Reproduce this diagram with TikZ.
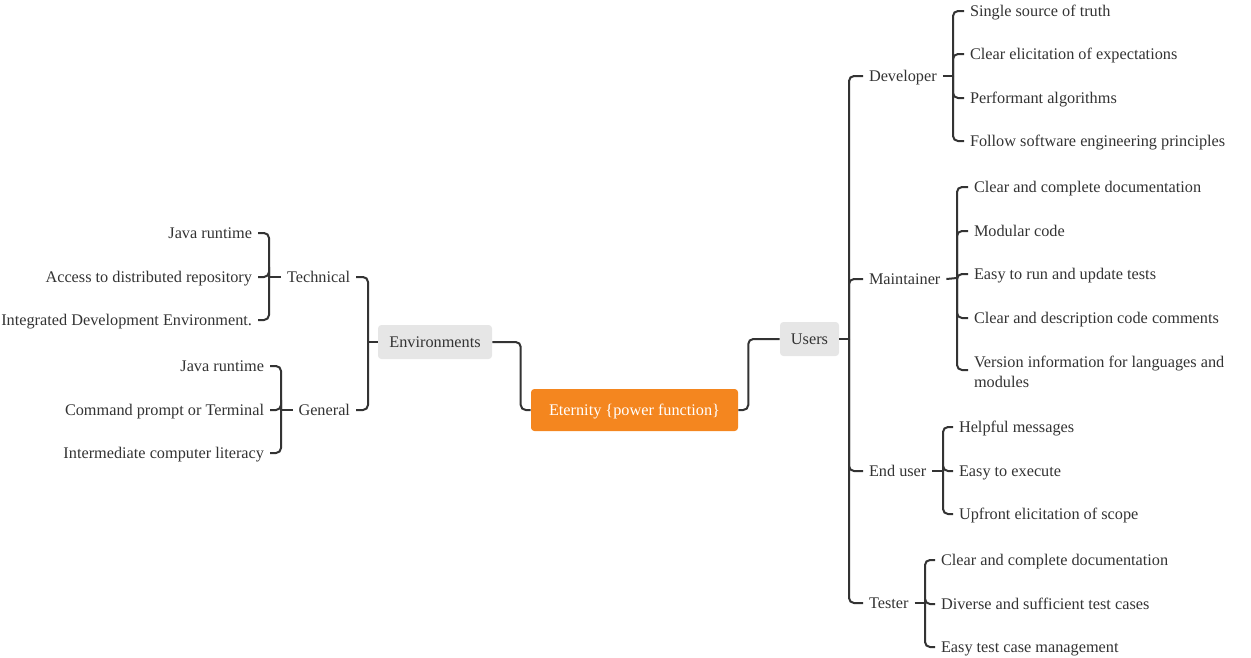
\documentclass[tikz,border=0pt]{standalone}
\usepackage{fontspec}
\setmainfont{Liberation Serif}
\newfontfamily\lserif{Liberation Serif}
\usetikzlibrary{calc}
\definecolor{txt}{HTML}{333333}
\definecolor{ln}{HTML}{333333}
\definecolor{boxgray}{HTML}{E6E6E6}
\definecolor{rootorange}{HTML}{F4861F}
\tikzset{
  lbl/.style={font=\lserif\fontsize{12.2}{15}\selectfont, text=txt, inner sep=0pt, outer xsep=4.5pt, outer ysep=0pt, text height=9.5pt, text depth=1pt},
  rlbl/.style={lbl, anchor=west},
  llbl/.style={lbl, anchor=east},
  multi/.style={font=\lserif\fontsize{12.2}{15}\selectfont, text=txt, inner sep=0pt, outer xsep=4.5pt, anchor=west, align=left},
  graybox/.style={fill=boxgray, rounded corners=2.5pt, font=\lserif\fontsize{12.2}{15}\selectfont, text=txt, inner xsep=2pt, minimum height=25.5pt, text height=9.5pt, text depth=1pt},
  rootbox/.style={fill=rootorange, rounded corners=2.5pt, font=\lserif\fontsize{12.2}{15}\selectfont, text=white, inner xsep=2pt, minimum width=155.25pt, minimum height=31.5pt, text height=9.5pt, text depth=1pt},
  conn/.style={draw=ln, line width=1.5pt, rounded corners=3.75pt},
}
\begin{document}
\begin{tikzpicture}[x=0.75pt, y=-0.75pt]
\useasboundingbox (0,0) rectangle (1251,657);
% central
\node[rootbox] (root) at (634.5,410) {Eternity \{power function\}};
\node[graybox, minimum width=85.5pt] (env) at (435,342) {Environments};
\node[graybox, minimum width=44.25pt] (users) at (809.5,339) {Users};
\draw[conn] (root.west) -- ++(-10,0) |- (env.east);
\draw[conn] (root.east) -- ++(10,0) |- (users.west);

% right trunk
\coordinate (ut) at (849,339);
\node[rlbl] (dev) at (863,76) {Developer};
\node[rlbl] (mai) at (863,279) {Maintainer};
\node[rlbl] (eus) at (863,471) {End user};
\node[rlbl] (tes) at (863,603) {Tester};
\draw[conn] (users.east) -- (ut);
\foreach \n in {dev,mai,eus,tes} \draw[conn] (ut) |- (\n.west);

% Developer
\coordinate (bd) at (953,76);
\node[rlbl] (d1) at (964,11) {Single source of truth};
\node[rlbl] (d2) at (964,54) {Clear elicitation of expectations};
\node[rlbl] (d3) at (964,98) {Performant algorithms};
\node[rlbl] (d4) at (964,141) {Follow software engineering principles};
\draw[conn] (dev.east) -- (bd);
\foreach \n in {d1,d2,d3,d4} \draw[conn] (bd) |- (\n.west);

% Maintainer
\coordinate (bm) at (957,278);
\node[rlbl] (m1) at (968,187) {Clear and complete documentation};
\node[rlbl] (m2) at (968,231) {Modular code};
\node[rlbl] (m3) at (968,274) {Easy to run and update tests};
\node[rlbl] (m4) at (968,318) {Clear and description code comments};
\node[multi] (m5) at (968,371.5) {Version information for languages and\\modules};
\draw[conn] (mai.east) -- (bm);
\foreach \n in {m1,m2,m4} \draw[conn] (bm) |- (\n.west);
\draw[conn] (bm) |- ($(m5.west)+(0,-1.5)$);
\draw[conn] (bm) -- ++(0,-4) -- (m3.west);

% End user
\coordinate (be) at (943,471);
\node[rlbl] (e1) at (953,427) {Helpful messages};
\node[rlbl] (e2) at (953,471) {Easy to execute};
\node[rlbl] (e3) at (953,514) {Upfront elicitation of scope};
\draw[conn] (eus.east) -- (be);
\foreach \n in {e1,e2,e3} \draw[conn] (be) |- (\n.west);

% Tester
\coordinate (bt) at (925,603);
\node[rlbl] (t1) at (935,560) {Clear and complete documentation};
\node[rlbl] (t2) at (935,604) {Diverse and sufficient test cases};
\node[rlbl] (t3) at (935,647) {Easy test case management};
\draw[conn] (tes.east) -- (bt);
\foreach \n in {t1,t2,t3} \draw[conn] (bt) |- (\n.west);

% left trunk
\coordinate (et) at (368,342);
\node[llbl] (tec) at (356,277) {Technical};
\node[llbl] (gen) at (356,410) {General};
\draw[conn] (env.west) -- (et);
\foreach \n in {tec,gen} \draw[conn] (et) |- (\n.east);

% Technical
\coordinate (btc) at (269,277);
\node[llbl] (a1) at (258,233) {Java runtime};
\node[llbl] (a2) at (258,277) {Access to distributed repository};
\node[llbl] (a3) at (258,320) {Integrated Development Environment.};
\draw[conn] (tec.west) -- (btc);
\foreach \n in {a1,a2,a3} \draw[conn] (btc) |- (\n.east);

% General
\coordinate (bg) at (281,410);
\node[llbl] (g1) at (270,366) {Java runtime};
\node[llbl] (g2) at (270,410) {Command prompt or Terminal};
\node[llbl] (g3) at (270,453) {Intermediate computer literacy};
\draw[conn] (gen.west) -- (bg);
\foreach \n in {g1,g2,g3} \draw[conn] (bg) |- (\n.east);
\end{tikzpicture}
\end{document}
